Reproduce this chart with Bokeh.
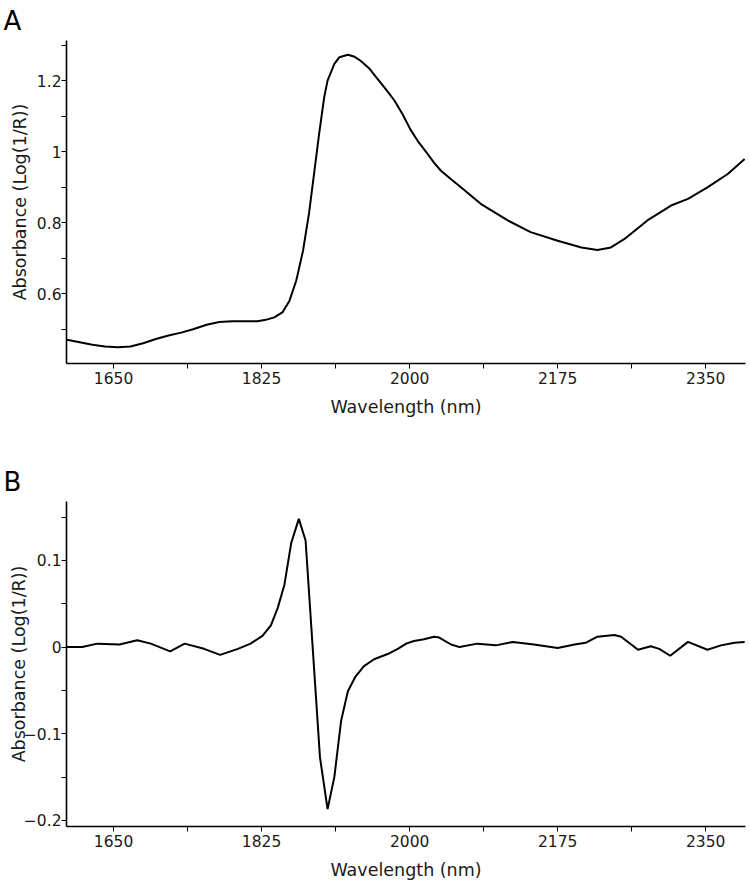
from bokeh.plotting import figure
from bokeh.layouts import column
from bokeh.models import FixedTicker, Range1d
from bokeh.embed import file_html
from bokeh.resources import INLINE

# ---- data ----
WAVELENGTH_A = [1595, 1610, 1625, 1640, 1655, 1670, 1685, 1700, 1715, 1730,
                1745, 1760, 1775, 1790, 1805, 1820, 1830, 1840, 1850, 1858,
                1866, 1874, 1881, 1887, 1893, 1899, 1903, 1911, 1917, 1927,
                1935, 1942, 1952, 1962, 1972, 1982, 1992, 2001, 2011, 2021,
                2029, 2037, 2049, 2061, 2084, 2116, 2143, 2175, 2203, 2222,
                2238, 2254, 2281, 2309, 2329, 2352, 2376, 2396]
ABSORBANCE_A = [0.470, 0.463, 0.456, 0.451, 0.449, 0.451, 0.460, 0.472, 0.482, 0.490,
                0.500, 0.512, 0.520, 0.522, 0.522, 0.522, 0.526, 0.533, 0.548, 0.580,
                0.637, 0.721, 0.825, 0.937, 1.050, 1.153, 1.200, 1.247, 1.266, 1.273,
                1.267, 1.256, 1.235, 1.205, 1.175, 1.144, 1.104, 1.062, 1.025, 0.994,
                0.968, 0.946, 0.922, 0.899, 0.853, 0.806, 0.773, 0.749, 0.730, 0.723,
                0.730, 0.754, 0.806, 0.848, 0.867, 0.899, 0.937, 0.979]

WAVELENGTH_B = [1595, 1613, 1631, 1657, 1678, 1694, 1717, 1734, 1757, 1776,
                1797, 1812, 1826, 1836, 1844, 1852, 1860, 1869, 1877, 1894,
                1903, 1911, 1919, 1927, 1936, 1946, 1958, 1974, 1986, 1996,
                2005, 2017, 2029, 2035, 2049, 2059, 2080, 2102, 2122, 2147,
                2175, 2195, 2208, 2222, 2242, 2250, 2270, 2285, 2295, 2308,
                2329, 2352, 2368, 2384, 2396]
ABSORBANCE_B = [0.000, 0.000, 0.004, 0.003, 0.008, 0.004, -0.005, 0.004, -0.002, -0.009,
                -0.002, 0.004, 0.013, 0.025, 0.045, 0.072, 0.120, 0.148, 0.123, -0.127,
                -0.187, -0.150, -0.085, -0.051, -0.034, -0.022, -0.014, -0.008, -0.002, 0.004,
                0.007, 0.009, 0.012, 0.011, 0.003, 0.000, 0.004, 0.002, 0.006, 0.003,
                -0.001, 0.003, 0.005, 0.012, 0.014, 0.012, -0.003, 0.001, -0.002, -0.010,
                0.006, -0.003, 0.002, 0.005, 0.006]

X_TICKS = [1650, 1825, 2000, 2175, 2350]
X_TICK_LABELS = ["1650", "1825", "2000", "2175", "2350"]
X_MINOR_TICKS = [1737.5, 1912.5, 2087.5, 2262.5]

Y_TICKS_A = [0.6, 0.8, 1.0, 1.2]
Y_TICK_LABELS_A = ["0.6", "0.8", "1", "1.2"]
Y_MINOR_TICKS_A = [0.5, 0.7, 0.9, 1.1, 1.3]

Y_TICKS_B = [-0.2, -0.1, 0.0, 0.1]
Y_TICK_LABELS_B = ["\u22120.2", "\u22120.1", "0", "0.1"]
Y_MINOR_TICKS_B = [-0.15, -0.05, 0.05, 0.15]

X_RANGE = (1594.4, 2397.0)
Y_RANGE_A = (0.403, 1.313)
Y_RANGE_B = (-0.207, 0.168)

X_LABEL = "Wavelength (nm)"
Y_LABEL = "Absorbance (Log(1/R))"

FONT = "DejaVu Sans"
TEXT = "#1a1a1a"


def make_panel(letter, xs, ys, y_range, yticks, ylabels, yminor, height,
               b_top, b_bottom, ylabel_standoff):
    p = figure(width=750, height=height,
               x_range=Range1d(*X_RANGE), y_range=Range1d(*y_range),
               output_backend="svg", toolbar_location=None,
               min_border_left=66, min_border_right=5,
               min_border_top=b_top, min_border_bottom=b_bottom)
    p.line(xs, ys, line_color="black", line_width=2)
    p.grid.visible = False
    p.outline_line_color = None
    p.background_fill_color = "white"

    p.title.text = letter
    p.title.align = "left"
    p.title.vertical_align = "top"
    p.title.offset = -63
    p.title.standoff = 6
    p.title.text_font = FONT
    p.title.text_font_size = "26px"
    p.title.text_font_style = "normal"
    p.title.text_color = "black"

    xa = p.xaxis[0]
    ya = p.yaxis[0]
    xa.ticker = FixedTicker(ticks=X_TICKS, minor_ticks=X_MINOR_TICKS)
    xa.major_label_overrides = dict(zip(X_TICKS, X_TICK_LABELS))
    ya.ticker = FixedTicker(ticks=yticks, minor_ticks=yminor)
    ya.major_label_overrides = dict(zip(yticks, ylabels))
    xa.axis_label = X_LABEL
    ya.axis_label = Y_LABEL

    for ax in (xa, ya):
        ax.axis_line_color = "black"
        ax.axis_line_width = 1.6
        ax.major_tick_line_color = "black"
        ax.minor_tick_line_color = "black"
        ax.major_tick_line_width = 1
        ax.minor_tick_line_width = 1
        ax.major_tick_in = 0
        ax.major_tick_out = 5
        ax.minor_tick_in = 0
        ax.minor_tick_out = 5
        ax.major_label_text_font = FONT
        ax.major_label_text_font_size = "15.5px"
        ax.major_label_text_color = TEXT
        ax.axis_label_text_font = FONT
        ax.axis_label_text_font_size = "17.5px"
        ax.axis_label_text_font_style = "normal"
        ax.axis_label_text_color = TEXT
    xa.major_label_standoff = 3
    xa.axis_label_standoff = 10
    ya.major_label_standoff = 0
    ya.axis_label_standoff = ylabel_standoff
    return p


p1 = make_panel("A", WAVELENGTH_A, ABSORBANCE_A, Y_RANGE_A,
                Y_TICKS_A, Y_TICK_LABELS_A, Y_MINOR_TICKS_A, 463, 40, 100, 4)
p2 = make_panel("B", WAVELENGTH_B, ABSORBANCE_B, Y_RANGE_B,
                Y_TICKS_B, Y_TICK_LABELS_B, Y_MINOR_TICKS_B, 420, 37, 57, -8)

layout = column(p1, p2, spacing=0)
open("out.html", "w").write(file_html(layout, INLINE))
